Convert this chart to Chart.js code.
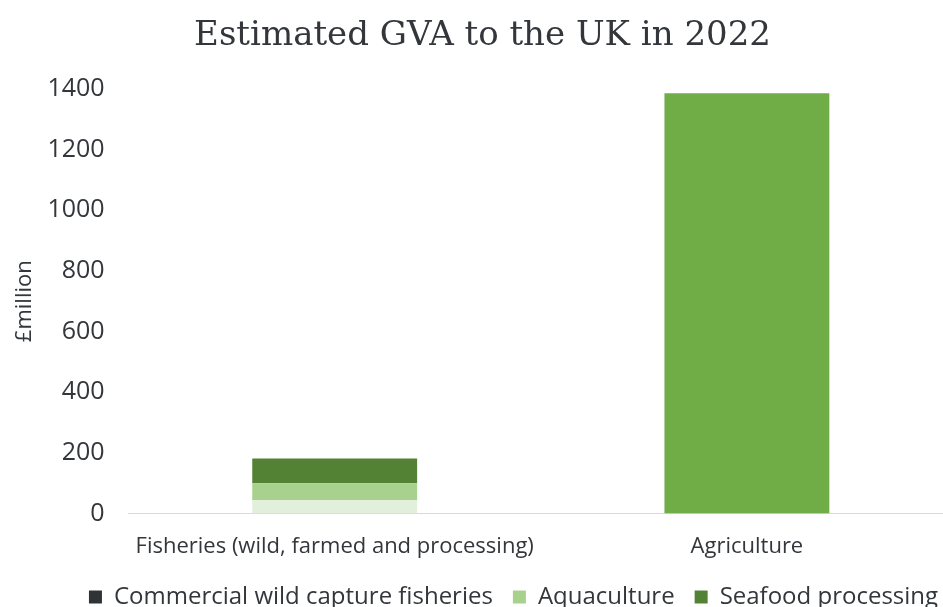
<!DOCTYPE html>
<html>
<head>
<meta charset="utf-8">
<script src="https://cdn.jsdelivr.net/npm/chart.js@4"></script>
<style>
  html, body { margin: 0; padding: 0; background: #fff; overflow: hidden; }
  #wrap { position: relative; width: 956px; height: 607px; }
</style>
</head>
<body>
<div id="wrap"><canvas id="myChart"></canvas></div>
<script>
const categories = ['Fisheries (wild, farmed and processing)', 'Agriculture'];
const wildCapture = [44, null];
const aquaculture = [56, null];
const seafoodProcessing = [82, null];
const agriculture = [null, 1385];
const yTicks = [0, 200, 400, 600, 800, 1000, 1200, 1400];

const textColor = '#33363b';

// nudge the legend to sit like the original
const legendShift = {
    id: 'legendShift',
    afterLayout(chart) {
        chart.legend.left += 31;
        chart.legend.right += 31;
        chart.legend.top -= 15;
        chart.legend.bottom -= 15;
    }
};

config = {
    type: 'bar',
    data: {
        labels: categories,
        datasets: [
            { label: 'Commercial wild capture fisheries', data: wildCapture, backgroundColor: '#e2efda' },
            { label: 'Aquaculture', data: aquaculture, backgroundColor: '#a9d18e' },
            { label: 'Seafood processing', data: seafoodProcessing, backgroundColor: '#548235' },
            { label: 'Agriculture', data: agriculture, backgroundColor: '#70ad47' }
        ]
    },
    options: {
        responsive: true,
        maintainAspectRatio: false,
        animation: false,
        layout: { padding: { left: 12, right: 3, top: 0, bottom: -27 } },
        datasets: {
            bar: { barPercentage: 0.4, categoryPercentage: 1.0, borderWidth: 0 }
        },
        scales: {
            x: {
                stacked: true,
                grid: { display: false, drawTicks: false },
                border: { display: true, color: '#d9d9d9', width: 1 },
                ticks: { color: textColor, font: { family: 'Open Sans', size: 22 }, padding: 20, maxRotation: 0, autoSkip: false },
                afterFit: (s) => { s.paddingLeft = 0; s.paddingRight = 0; }
            },
            y: {
                stacked: true,
                min: 0,
                max: 1400,
                afterBuildTicks: (axis) => { axis.ticks = yTicks.map(v => ({ value: v })); },
                afterFit: (s) => { s.width -= 27; },
                grid: { display: false, drawTicks: false },
                border: { display: false },
                ticks: {
                    color: textColor,
                    font: { family: 'Open Sans', size: 25 },
                    padding: 24,
                    callback: (v) => String(v)
                },
                title: { display: true, text: '£million', color: textColor, font: { family: 'Open Sans', size: 22 }, padding: { top: 0, bottom: 12 } }
            }
        },
        plugins: {
            title: {
                display: true,
                text: 'Estimated GVA to the UK in 2022',
                color: textColor,
                font: { family: 'DejaVu Serif', size: 34, weight: 'normal' },
                padding: { top: 16, bottom: 32 }
            },
            legend: {
                position: 'bottom',
                labels: {
                    color: textColor,
                    font: { family: 'Open Sans', size: 24 },
                    boxWidth: 13,
                    boxHeight: 13,
                    padding: 20,
                    filter: (item) => item.text !== 'Agriculture',
                    generateLabels: (chart) => {
                        const items = Chart.defaults.plugins.legend.labels.generateLabels(chart);
                        items.forEach(it => {
                            if (it.datasetIndex === 0) { it.fillStyle = '#2f3237'; }
                            it.strokeStyle = 'rgba(0,0,0,0)';
                            it.lineWidth = 0;
                        });
                        return items;
                    }
                }
            },
            tooltip: { enabled: false }
        }
    },
    plugins: [legendShift]
};

function buildChart(){
    const ctx = document.getElementById('myChart').getContext('2d');
    return new Chart(ctx, config);
}

window.addEventListener('load', () => {
    buildChart();
});
</script>
</body>
</html>
